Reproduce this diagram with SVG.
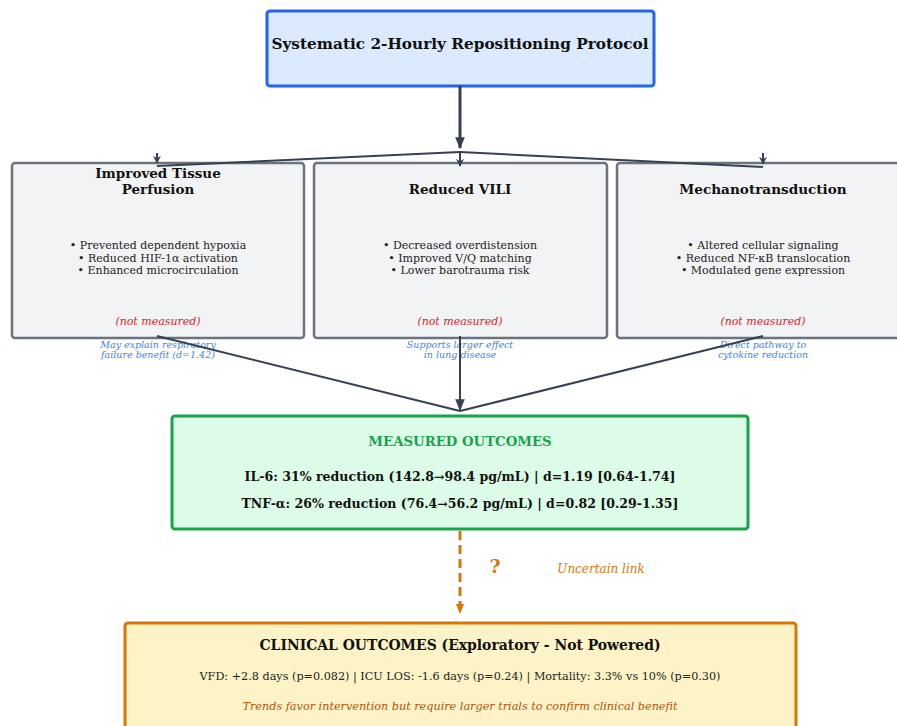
<svg xmlns="http://www.w3.org/2000/svg" width="897" height="726" viewBox="0 0 897 726">
<defs>
<style>
text{font-family:"DejaVu Serif","Liberation Serif",serif;text-anchor:middle;}
.b{font-weight:bold;fill:#111;}
.bul{font-size:11px;fill:#222;}
.nm{font-size:11px;font-style:italic;fill:#dc2626;}
.note{font-size:9.5px;font-style:italic;fill:#3b82f6;}
.mech{fill:#f2f3f5;stroke:#6b7280;stroke-width:2.5;}
.ln{stroke:#374151;stroke-width:2;fill:none;}
.cond{font-family:"DejaVu Serif Condensed","DejaVu Serif",serif;font-stretch:condensed;}
</style>
<marker id="ahs" viewBox="0 0 10 10" refX="9" refY="5" markerWidth="8" markerHeight="8" orient="auto" markerUnits="userSpaceOnUse">
<path d="M0,0 L10,5 L0,10 L3,5 z" fill="#374151"/>
</marker>
<marker id="ahb" viewBox="0 0 10 10" refX="9" refY="5" markerWidth="12" markerHeight="12" orient="auto" markerUnits="userSpaceOnUse">
<path d="M0,1 L10,5 L0,9 z" fill="#374151"/>
</marker>
<marker id="aho" viewBox="0 0 10 10" refX="9" refY="5" markerWidth="10" markerHeight="10" orient="auto" markerUnits="userSpaceOnUse">
<path d="M0,1 L10,5 L0,9 z" fill="#d97706"/>
</marker>
</defs>
<rect width="897" height="726" fill="#fff"/>

<g id="protocol">
<rect x="267" y="11" width="387" height="75" rx="3" fill="#dbeafe" stroke="#2563eb" stroke-width="3"/>
<text class="b" x="460" y="49" font-size="15.3">Systematic 2-Hourly Repositioning Protocol</text>
</g>

<g id="perfusion">
<rect class="mech" x="12" y="163" width="292" height="175" rx="3"/>
<text class="b" x="158" y="178" font-size="13.5">Improved Tissue</text>
<text class="b" x="158" y="194" font-size="13.5">Perfusion</text>
<text class="bul" x="158" y="249">• Prevented dependent hypoxia</text>
<text class="bul" x="158" y="262">• Reduced HIF-1α activation</text>
<text class="bul" x="158" y="274">• Enhanced microcirculation</text>
<text class="nm" x="158" y="325">(not measured)</text>
<text class="note" x="158" y="348">May explain respiratory</text>
<text class="note" x="158" y="358">failure benefit (d=1.42)</text>
</g>

<g id="vili">
<rect class="mech" x="314" y="163" width="293" height="175" rx="3"/>
<text class="b" x="460" y="194" font-size="13.5">Reduced VILI</text>
<text class="bul" x="460" y="249">• Decreased overdistension</text>
<text class="bul" x="460" y="262">• Improved V/Q matching</text>
<text class="bul" x="460" y="274">• Lower barotrauma risk</text>
<text class="nm" x="460" y="325">(not measured)</text>
<text class="note" x="460" y="348">Supports larger effect</text>
<text class="note" x="460" y="358">in lung disease</text>
</g>

<g id="mechano">
<rect class="mech" x="617" y="163" width="292" height="175" rx="3"/>
<text class="b" x="763" y="194" font-size="13.6">Mechanotransduction</text>
<text class="bul" x="763" y="249">• Altered cellular signaling</text>
<text class="bul" x="763" y="262">• Reduced NF-κB translocation</text>
<text class="bul" x="763" y="274">• Modulated gene expression</text>
<text class="nm" x="763" y="325">(not measured)</text>
<text class="note" x="763" y="348">Direct pathway to</text>
<text class="note" x="763" y="358">cytokine reduction</text>
</g>

<g id="measured">
<rect x="172" y="416" width="576" height="113" rx="3" fill="#dcfce7" stroke="#16a34a" stroke-width="3"/>
<text x="460" y="446" font-size="13.3" font-weight="bold" fill="#16a34a">MEASURED OUTCOMES</text>
<text class="b" x="460" y="481" font-size="12" textLength="431" lengthAdjust="spacingAndGlyphs">IL-6: 31% reduction (142.8→98.4 pg/mL) | d=1.19 [0.64-1.74]</text>
<text class="b" x="460" y="508" font-size="12" textLength="437" lengthAdjust="spacingAndGlyphs">TNF-α: 26% reduction (76.4→56.2 pg/mL) | d=0.82 [0.29-1.35]</text>
</g>

<g id="clinical">
<rect x="125" y="623" width="671" height="110" rx="3" fill="#fef3c7" stroke="#d97706" stroke-width="3"/>
<text class="b cond" x="460" y="650" font-size="14" textLength="401" lengthAdjust="spacingAndGlyphs">CLINICAL OUTCOMES (Exploratory - Not Powered)</text>
<text class="cond" x="460" y="680" font-size="11.5" fill="#222" textLength="521" lengthAdjust="spacingAndGlyphs">VFD: +2.8 days (p=0.082) | ICU LOS: -1.6 days (p=0.24) | Mortality: 3.3% vs 10% (p=0.30)</text>
<text class="cond" x="460" y="710" font-size="11.5" font-style="italic" fill="#b45309" textLength="435" lengthAdjust="spacingAndGlyphs">Trends favor intervention but require larger trials to confirm clinical benefit</text>
</g>

<g id="connectors">
<line x1="460" y1="86" x2="460" y2="148" stroke="#374151" stroke-width="3" marker-end="url(#ahb)"/>
<path class="ln" d="M460,152 L157,166"/>
<path class="ln" d="M460,152 L763,167"/>
<line class="ln" x1="157" y1="153" x2="157" y2="163" stroke-width="1.5" marker-end="url(#ahs)"/>
<line class="ln" x1="460" y1="153" x2="460" y2="166" stroke-width="1.5" marker-end="url(#ahs)"/>
<line class="ln" x1="763" y1="153" x2="763" y2="164" stroke-width="1.5" marker-end="url(#ahs)"/>
<path class="ln" d="M157,336 L460,411"/>
<path class="ln" d="M763,336 L460,411"/>
<line x1="460" y1="336" x2="460" y2="410" stroke="#374151" stroke-width="2" marker-end="url(#ahb)"/>
<line x1="460" y1="531" x2="460" y2="613" stroke="#d97706" stroke-width="3" stroke-dasharray="9,5" marker-end="url(#aho)"/>
<text x="495" y="573" font-size="19" font-weight="bold" fill="#d97706">?</text>
<text x="601" y="573" font-size="12" font-style="italic" fill="#d97706">Uncertain link</text>
</g>
</svg>
